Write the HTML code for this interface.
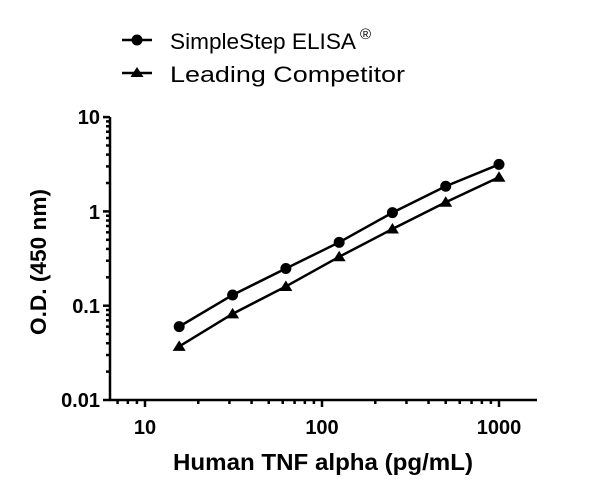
<!DOCTYPE html>
<html><head><meta charset="utf-8"><style>
html,body{margin:0;padding:0;background:#fff;width:600px;height:488px;overflow:hidden}
svg text{font-family:"Liberation Sans",sans-serif;fill:#000}
</style></head><body>
<svg id="s" width="600" height="488" viewBox="0 0 600 488" xmlns="http://www.w3.org/2000/svg">
<g stroke="#000" stroke-width="2.5" fill="none" id="ax">
<line x1="110" y1="117" x2="110" y2="401"/>
<line x1="109" y1="400" x2="537" y2="400"/>
</g>
<g font-size="20" font-weight="bold" text-anchor="end">
<text x="100" y="124">10</text>
<text x="100" y="219">1</text>
<text x="100" y="313">0.1</text>
<text x="100" y="407">0.01</text>
</g>
<g font-size="20" font-weight="bold" text-anchor="middle">
<text x="145" y="434">10</text>
<text x="322" y="434">100</text>
<text x="499" y="434">1000</text>
</g>
<text x="173" y="470" font-size="23" font-weight="bold" textLength="300" lengthAdjust="spacingAndGlyphs">Human TNF alpha (pg/mL)</text>
<text transform="translate(46,335) rotate(-90)" font-size="22" font-weight="bold" textLength="146" lengthAdjust="spacingAndGlyphs">O.D. (450 nm)</text>
<g stroke="#000" stroke-width="2.5"><line x1="122" y1="40" x2="152" y2="40"/><line x1="122" y1="73" x2="152" y2="73"/></g>
<circle cx="137" cy="40" r="5.5"/>
<polygon points="137,67 143.5,77 130.5,77"/>
<text x="170" y="49" font-size="22" textLength="186" lengthAdjust="spacingAndGlyphs">SimpleStep ELISA</text><text x="360" y="39" font-size="15">®</text>
<text x="170" y="82" font-size="22" textLength="235" lengthAdjust="spacingAndGlyphs">Leading Competitor</text>
<g id="d"></g>
</svg>
<script>
var ns="http://www.w3.org/2000/svg",ax=document.getElementById('ax'),d=document.getElementById('d');
function X(v){return 145+(Math.log10(v)-1)*177;}
function Y(v){return 400-(Math.log10(v)+2)*94.3;}
function el(t,a,p){var e=document.createElementNS(ns,t);for(var k in a)e.setAttribute(k,a[k]);(p||d).appendChild(e);return e;}
for(var e=-2;e<=1;e++){var y=Y(Math.pow(10,e));el('line',{x1:103,x2:110,y1:y,y2:y},ax);
 if(e<1)for(var m=2;m<10;m++){var yy=Y(m*Math.pow(10,e));el('line',{x1:106,x2:110,y1:yy,y2:yy},ax);}}
for(var e=0;e<=3;e++){for(var m=1;m<10;m++){var v=m*Math.pow(10,e);var x=X(v);if(x<112||x>535)continue;
 el('line',{x1:x,x2:x,y1:400,y2:m==1?407:404},ax);}}
var xs=[15.6,31.25,62.5,125,250,500,1000];
var c=[0.06,0.13,0.248,0.47,0.97,1.85,3.15];
var t=[0.037,0.082,0.16,0.33,0.65,1.25,2.3];
function pl(a){return xs.map(function(x,i){return X(x)+','+Y(a[i]);}).join(' ');}
el('polyline',{points:pl(c),fill:'none',stroke:'#000','stroke-width':2.5});
el('polyline',{points:pl(t),fill:'none',stroke:'#000','stroke-width':2.5});
xs.forEach(function(x,i){el('circle',{cx:X(x),cy:Y(c[i]),r:5.5});
 var px=X(x),py=Y(t[i]);el('polygon',{points:(px)+','+(py-6)+' '+(px+6.5)+','+(py+4.5)+' '+(px-6.5)+','+(py+4.5)});});
</script>
</body></html>
